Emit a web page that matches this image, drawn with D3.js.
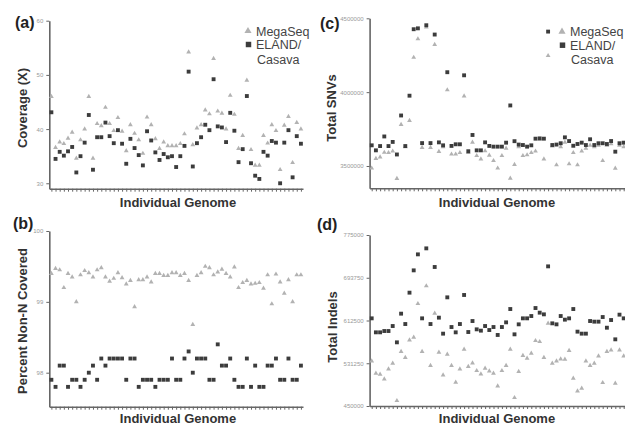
<!DOCTYPE html>
<html>
<head>
<meta charset="utf-8">
<script src="https://cdn.jsdelivr.net/npm/d3@7"></script>
<style>
  body { margin: 0; background: #fff; }
  svg { display: block; font-family: "Liberation Sans", Arial, sans-serif; }
  .axis path, .axis line { stroke: #666; }
  .axis path { stroke-width: 1.6; }
  .axis text { fill: #999; font-size: 6px; }
</style>
</head>
<body>
<script>
// genome index along the x axis (61 individual genomes)
var genomes = d3.range(1, 62);

// (a) coverage
var coverageMegaSeq = [46.0,36.6,37.6,37.3,38.3,39.4,34.6,38.0,40.0,46.0,34.6,41.0,40.6,44.0,41.0,39.7,42.1,39.6,36.0,40.8,
  39.2,38.0,35.5,42.2,40.8,38.2,36.4,37.6,36.9,36.9,36.9,37.3,39.1,54.2,37.1,40.2,40.8,43.5,42.8,53.0,
  43.3,42.9,40.0,46.2,42.7,36.4,38.8,49.0,36.2,33.3,33.3,38.8,37.4,40.8,39.7,32.5,40.7,42.3,33.8,41.2,40.0];
var coverageEland = [43.1,34.5,35.8,35.1,35.9,36.7,32.0,35.0,37.5,42.6,32.5,38.5,38.5,41.2,38.7,37.4,39.8,37.3,33.6,38.2,
  36.5,35.2,33.3,39.6,37.9,35.7,34.3,35.4,34.8,35.0,33.0,35.0,36.9,50.6,33.1,37.4,38.5,40.8,39.8,49.2,
  40.5,40.3,37.6,43.0,39.7,33.9,36.3,46.1,33.7,31.4,30.8,35.8,35.1,37.8,37.5,30.0,37.5,39.8,31.1,38.7,37.3];

// (b) percent non-N covered
var nonNMegaSeq = [99.40,99.47,99.45,99.20,99.40,99.35,99.00,99.38,99.44,99.41,99.35,99.45,99.48,99.35,99.29,99.33,99.41,99.34,99.25,99.30,
  98.93,99.31,99.31,99.35,99.28,99.40,99.40,99.37,99.37,99.41,99.41,99.37,99.40,99.30,98.68,99.37,99.41,99.50,99.48,99.38,
  99.42,99.46,99.40,99.35,99.49,99.20,99.27,99.30,99.25,99.26,99.27,99.19,99.38,98.97,99.39,99.28,99.12,99.31,99.00,99.38,99.38];
var nonNEland = [97.9,97.8,98.1,98.1,97.8,97.9,97.9,97.8,97.9,98.0,98.1,97.9,98.2,98.1,98.2,98.2,98.2,98.2,97.9,98.2,
  98.2,97.8,97.9,97.9,97.9,97.8,97.9,97.9,97.9,98.2,97.9,97.9,98.2,98.3,98.0,98.2,98.2,98.2,97.9,97.9,
  98.4,98.1,98.1,98.2,97.9,97.8,97.8,98.2,97.8,98.1,97.8,97.8,98.1,98.1,98.2,97.9,97.9,98.2,97.9,97.9,98.1];

// (c) total SNVs
var snvMegaSeq = [3485000,3550000,3560000,3592000,3590000,3600000,3415000,3780000,3630000,3808000,
  4235000,4360000,3625000,4440000,3625000,4322000,3598000,3630000,4015000,3580000,
  3580000,3590000,3974000,3590000,3660000,3570000,3547000,3602000,3572000,3536000,
  3485000,3570000,3620000,3417000,3510000,3630000,3570000,3575000,3590000,3600000,
  3680000,3547000,4247000,3635000,3507000,3630000,3660000,3514000,3590000,3507000,
  3600000,3620000,3640000,3630000,3640000,3536000,3640000,3650000,3484000,3640000,3630000];
var snvEland = [3640000,3606000,3635000,3700000,3635000,3663000,3578000,3842000,3635000,3976000,
  4426000,4432000,3655000,4453000,3655000,4390000,3660000,3640000,4135000,3636000,
  3647000,3647000,4114000,3600000,3710000,3606000,3606000,3660000,3636000,3631000,
  3631000,3631000,3658000,3910000,3668000,3645000,3642000,3631000,3640000,3685000,
  3687000,3685000,4410000,3642000,3645000,3654000,3694000,3669000,3637000,3649000,
  3658000,3642000,3681000,3642000,3654000,3654000,3649000,3669000,3597000,3654000,3658000];

// (d) total indels
var indelMegaSeq = [535500,512100,510200,501300,520300,531100,460100,553300,541900,575400,
  580500,644500,553300,678100,526700,626100,552000,508900,548200,526700,
  495000,520300,557700,524800,531700,517100,510800,521600,516500,512100,
  488000,517100,526700,557700,465800,515300,545700,540600,550100,574200,
  572300,541900,607100,531100,535500,539300,538700,555200,502600,478500,
  483600,535500,526700,531100,545000,494300,553300,556400,493100,556400,545000];
var indelEland = [616600,590000,590000,592500,592500,602000,571000,625500,605800,665400,
  707800,738200,616600,749600,605800,714200,617900,587500,656500,600100,
  590000,605800,661000,590600,611500,595700,593200,602000,594400,600100,
  585000,600100,609000,634300,586200,605200,616600,616600,621000,636200,
  627400,624200,715400,607100,605200,621000,614100,616600,634300,591300,
  587500,587500,611500,610300,610300,619100,598800,613400,576700,623600,616600];

// y ticks
var coverageTicks = [30, 40, 50, 60];
var nonNTicks = [98, 99, 100];
var snvTicks = [3500000, 4000000, 4500000];
var indelTicks = [450000, 531250, 612500, 693750, 775000];

var seriesNames = ["MegaSeq", "ELAND/", "Casava"];

var width = 625, height = 425;
var darkCol = "#3c3c3c", lightCol = "#b2b2b2";

var svg = d3.select("body").append("svg")
  .attr("width", width)
  .attr("height", height);

var panels = [
  {tag: "(a)", tagX: 15, tagY: 28, title: "Coverage (X)", titleX: 27, titleY: 108,
   x0: 49.3, x1: 303, yTop: 20.7, yBot: 188.7, domain: [29, 60], ticks: coverageTicks,
   mega: coverageMegaSeq, eland: coverageEland, gX: 178, gY: 207, legend: [248, 31]},
  {tag: "(b)", tagX: 13, tagY: 229, title: "Percent Non-N Covered", titleX: 27, titleY: 321,
   x0: 49.3, x1: 303, yTop: 231, yBot: 406.7, domain: [97.52, 100], ticks: nonNTicks,
   mega: nonNMegaSeq, eland: nonNEland, gX: 178, gY: 423},
  {tag: "(c)", tagX: 320, tagY: 29, title: "Total SNVs", titleX: 336, titleY: 108,
   x0: 369.6, x1: 625.8, yTop: 18.3, yBot: 188.3, domain: [3349000, 4500000], ticks: snvTicks,
   mega: snvMegaSeq, eland: snvEland, gX: 497, gY: 207, legend: [562, 31.7]},
  {tag: "(d)", tagX: 317, tagY: 230, title: "Total Indels", titleX: 337, titleY: 327,
   x0: 369.6, x1: 625.8, yTop: 235, yBot: 406, domain: [450000, 775000], ticks: indelTicks,
   mega: indelMegaSeq, eland: indelEland, gX: 497, gY: 423}
];

panels.forEach(function(p) {
  var g = svg.append("g");

  var x = d3.scalePoint()
    .domain(genomes)
    .range([p.x0, p.x1])
    .padding(0.5);

  var y = d3.scaleLinear()
    .domain(p.domain)
    .range([p.yBot, p.yTop]);

  var xAxis = d3.axisBottom(x).tickSize(3).tickSizeOuter(0).tickFormat("");
  var yAxis = d3.axisLeft(y).tickValues(p.ticks).tickSize(3).tickSizeOuter(0).tickFormat(d3.format("d"));

  g.append("g").attr("class", "axis")
    .attr("transform", "translate(0," + p.yBot + ")")
    .call(xAxis);
  g.append("g").attr("class", "axis")
    .attr("transform", "translate(" + p.x0 + ",0)")
    .call(yAxis);

  var tri = d3.symbol().type(d3.symbolTriangle).size(10);
  var sq = d3.symbol().type(d3.symbolSquare).size(15);

  g.selectAll(".mega").data(p.mega).enter().append("path")
    .attr("class", "mega")
    .attr("transform", function(d, i) { return "translate(" + x(genomes[i]) + "," + y(d) + ")"; })
    .attr("d", tri)
    .attr("fill", lightCol);

  g.selectAll(".eland").data(p.eland).enter().append("path")
    .attr("class", "eland")
    .attr("transform", function(d, i) { return "translate(" + x(genomes[i]) + "," + y(d) + ")"; })
    .attr("d", sq)
    .attr("fill", darkCol);

  // panel tag
  g.append("text")
    .attr("x", p.tagX).attr("y", p.tagY)
    .attr("font-size", 16).attr("font-weight", "bold").attr("fill", "#222")
    .text(p.tag);

  // y title
  g.append("text")
    .attr("transform", "translate(" + p.titleX + "," + p.titleY + ") rotate(-90)")
    .attr("text-anchor", "middle")
    .attr("font-size", 13).attr("font-weight", "bold").attr("fill", "#333")
    .text(p.title);

  // x title
  g.append("text")
    .attr("x", p.gX).attr("y", p.gY)
    .attr("text-anchor", "middle")
    .attr("font-size", 13).attr("font-weight", "bold").attr("fill", "#333")
    .text("Individual Genome");

  if (p.legend) {
    var lx = p.legend[0], ly = p.legend[1];
    var lg = g.append("g").attr("font-size", 12.5).attr("fill", "#444");
    lg.append("path")
      .attr("transform", "translate(" + lx + "," + ly + ")")
      .attr("d", d3.symbol().type(d3.symbolTriangle).size(22))
      .attr("fill", lightCol);
    lg.append("path")
      .attr("transform", "translate(" + (lx + 0.5) + "," + (ly + 13.5) + ")")
      .attr("d", d3.symbol().type(d3.symbolSquare).size(30))
      .attr("fill", darkCol);
    lg.append("text").attr("x", lx + 8).attr("y", ly + 4.5).text(seriesNames[0]);
    lg.append("text").attr("x", lx + 8).attr("y", ly + 18).text(seriesNames[1]);
    lg.append("text").attr("x", lx + 9).attr("y", ly + 32.5).text(seriesNames[2]);
  }
});
</script>
</body>
</html>
